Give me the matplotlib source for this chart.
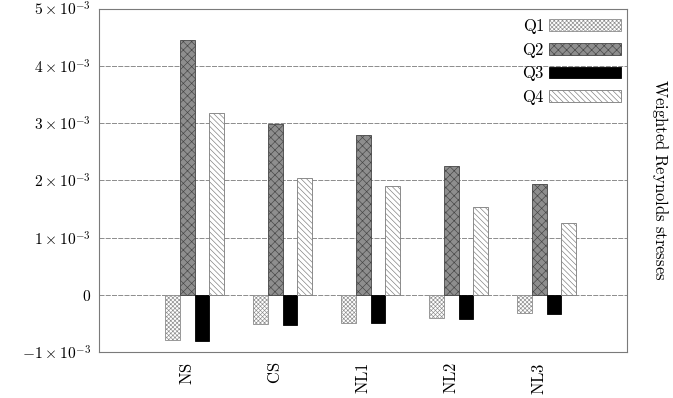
import numpy as np
import matplotlib
matplotlib.use("Agg")
import matplotlib.pyplot as plt

plt.rcParams["mathtext.fontset"] = "cm"
plt.rcParams["hatch.linewidth"] = 0.45

# Quadrant contributions to the Reynolds stress, per case (units of 1e-3)
categories = ["NS", "CS", "NL1", "NL2", "NL3"]
q1 = [-0.79, -0.51, -0.48, -0.40, -0.32]
q2 = [4.45, 2.98, 2.79, 2.26, 1.93]
q3 = [-0.80, -0.52, -0.49, -0.41, -0.34]
q4 = [3.17, 2.04, 1.90, 1.53, 1.25]
series_names = ["Q1", "Q2", "Q3", "Q4"]
y_ticks = [-1, 0, 1, 2, 3, 4, 5]

scale = 1e-3
fig = plt.figure(figsize=(6.73, 3.98), dpi=100)
ax = fig.add_axes([0.1475, 0.1148, 0.932 - 0.1475, 0.9786 - 0.1148])

x = np.arange(len(categories))
w = 0.168
styles = [
    dict(facecolor="white", edgecolor="#8c8c8c", hatch="xxxxxxxx"),
    dict(facecolor="#8e8e8e", edgecolor="#454545", hatch="xxxx"),
    dict(facecolor="black", edgecolor="black", hatch=None),
    dict(facecolor="white", edgecolor="#7a7a7a", hatch="\\" * 6),
]
offsets = [-1, 0, 1, 2]
for vals, name, st, off in zip([q1, q2, q3, q4], series_names, styles, offsets):
    ax.bar(x + off * w, np.array(vals) * scale, width=w, linewidth=0.6,
           label=r"$\mathrm{%s}$" % name, zorder=3, **st)

ax.set_xlim(-1, 5)
ax.set_ylim(-1 * scale, 5 * scale)
ax.set_xticks(x)
ax.set_xticklabels([r"$\mathrm{%s}$" % c for c in categories], rotation=90,
                   fontsize=12)
ax.set_yticks(np.array(y_ticks) * scale)
ylabels = []
for t in y_ticks:
    if t == 0:
        ylabels.append(r"$0$")
    else:
        ylabels.append(r"$%d\times10^{-3}$" % t)
ax.set_yticklabels(ylabels, fontsize=11.2)
ax.tick_params(axis="both", length=0)
ax.tick_params(axis="y", pad=6)
ax.tick_params(axis="x", pad=7)

ax.yaxis.grid(True, color="#7a7a7a", linestyle=(0, (6, 1.5)), linewidth=0.6,
              zorder=1)
ax.set_axisbelow(True)
for s in ax.spines.values():
    s.set_color("#7a7a7a")
    s.set_linewidth(0.8)

leg = ax.legend(loc="upper right", frameon=False, markerfirst=False,
                fontsize=12, handlelength=4.3, handleheight=0.7,
                handletextpad=0.25, labelspacing=0.28,
                borderaxespad=0.0, bbox_to_anchor=(1.0, 0.995))

fig.text(660 / 673, 1 - 180 / 398, r"$\mathrm{Weighted\ Reynolds\ stresses}$",
         rotation=270, ha="center", va="center", fontsize=12)

fig.savefig("out.png", dpi=100)
